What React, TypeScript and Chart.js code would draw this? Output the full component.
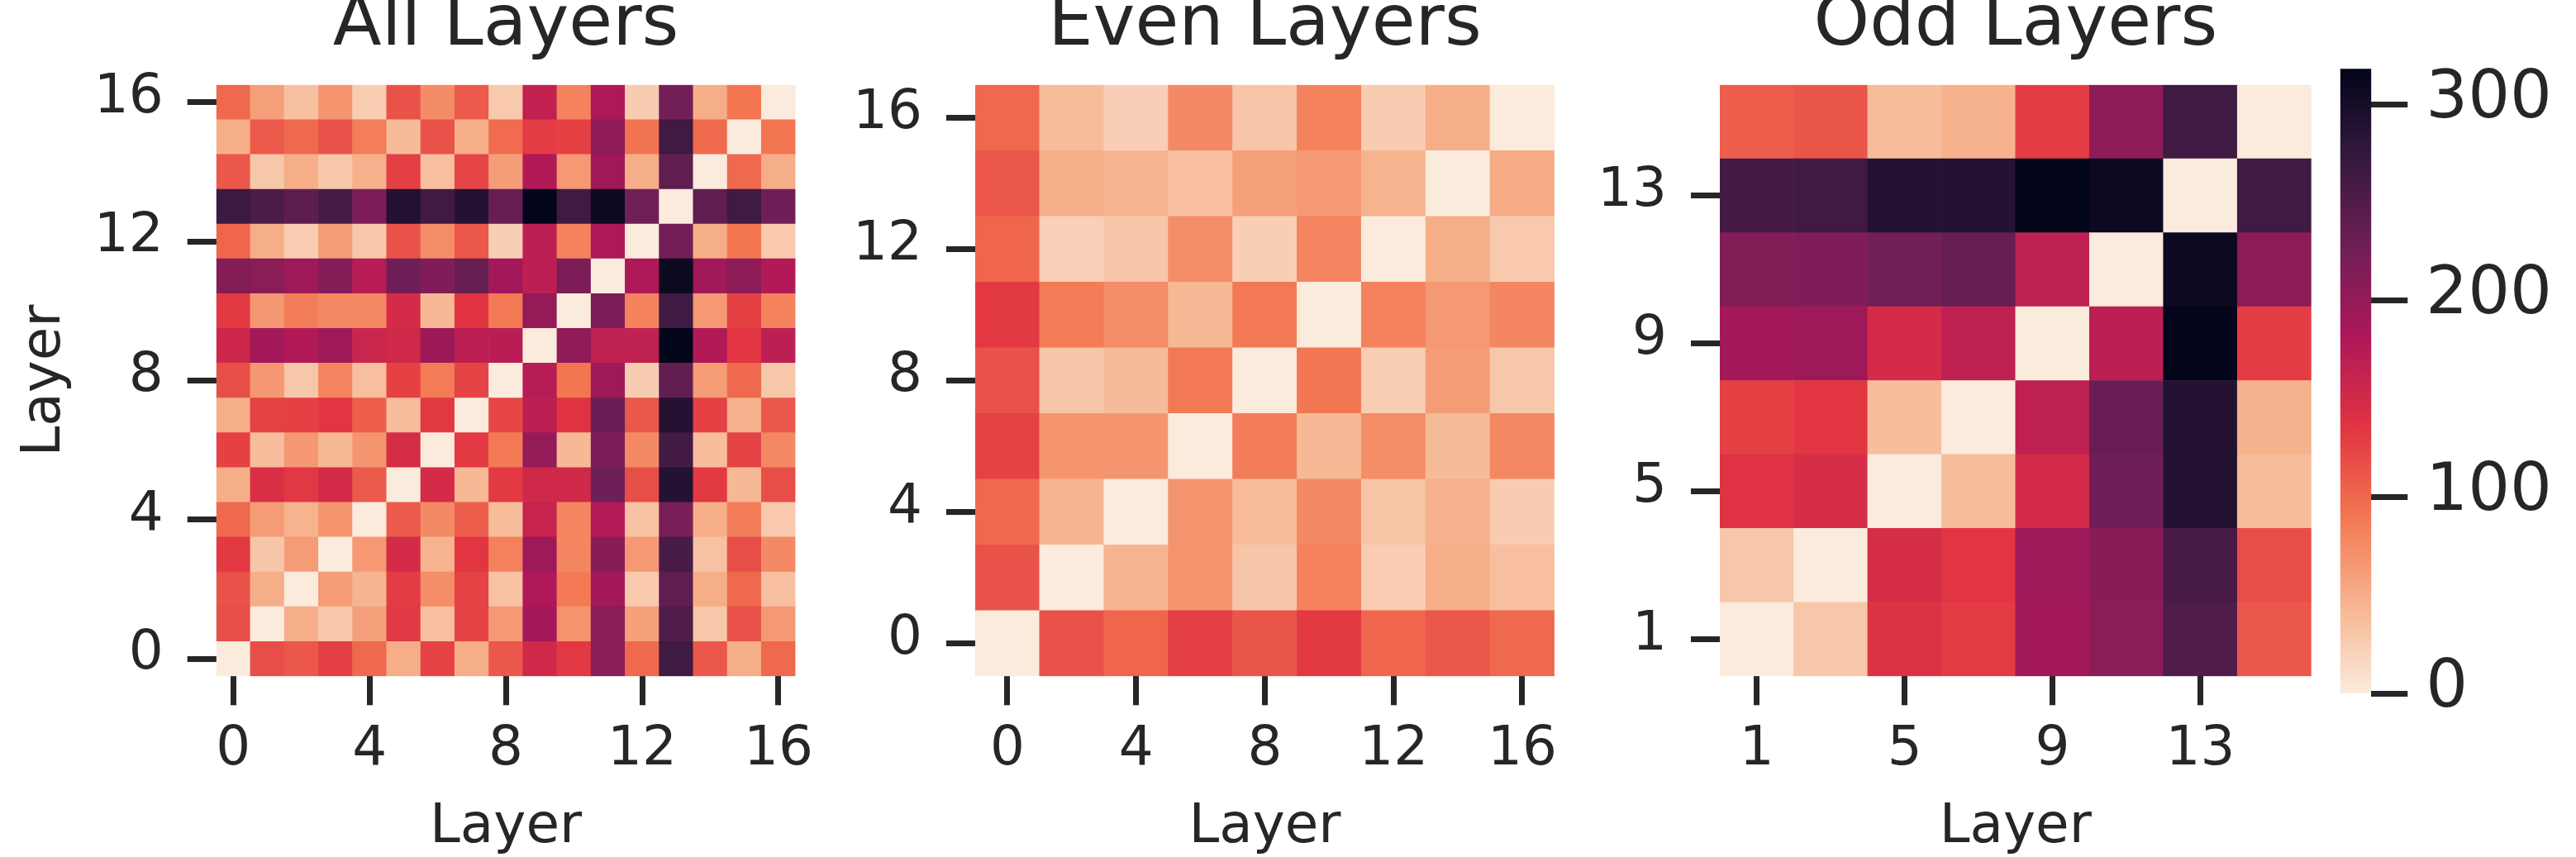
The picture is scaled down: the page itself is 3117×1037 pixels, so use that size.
import React, { useEffect, useRef } from 'react';
import { Chart, registerables } from 'chart.js';

Chart.register(...registerables);

const FONT = "'DejaVu Sans', sans-serif";
const INK = '#262626';

const allLayers = [0, 1, 2, 3, 4, 5, 6, 7, 8, 9, 10, 11, 12, 13, 14, 15, 16];
const evenLayers = [0, 2, 4, 6, 8, 10, 12, 14, 16];
const oddLayers = [1, 3, 5, 7, 9, 11, 13, 15];

const allTicks = [0, 4, 8, 12, 16];
const evenTicks = [0, 4, 8, 12, 16];
const oddTicks = [1, 5, 9, 13];
const colorbarTicks = [0, 100, 200, 300];
const colorMin = 0;
const colorMax = 318;

// rows: layer listed bottom (first) to top (last); columns: layers left to right
const allValues = [
  [0, 118, 112, 128, 100, 50, 126, 50, 112, 152, 133, 208, 100, 265, 112, 50, 100],
  [118, 0, 50, 30, 60, 133, 36, 126, 66, 190, 69, 208, 60, 252, 30, 115, 65],
  [115, 50, 0, 63, 45, 130, 74, 126, 34, 180, 88, 190, 28, 240, 50, 100, 36],
  [132, 31, 63, 0, 66, 148, 46, 135, 83, 193, 79, 210, 65, 258, 34, 118, 76],
  [100, 63, 46, 68, 0, 110, 76, 107, 39, 160, 79, 176, 34, 220, 50, 86, 28],
  [50, 142, 133, 148, 110, 0, 148, 42, 132, 152, 152, 228, 118, 288, 132, 42, 118],
  [127, 38, 67, 43, 68, 146, 0, 132, 88, 200, 42, 218, 76, 262, 38, 125, 78],
  [50, 126, 127, 135, 107, 38, 132, 0, 123, 168, 137, 233, 112, 288, 127, 48, 112],
  [118, 67, 30, 80, 36, 127, 87, 125, 0, 174, 91, 194, 26, 238, 63, 100, 30],
  [155, 190, 178, 192, 158, 152, 195, 168, 172, 0, 203, 167, 166, 318, 178, 135, 169],
  [132, 67, 86, 78, 78, 148, 42, 136, 89, 200, 0, 218, 82, 265, 65, 127, 82],
  [212, 208, 194, 212, 173, 228, 215, 235, 190, 168, 218, 0, 180, 310, 191, 206, 178],
  [102, 50, 25, 64, 30, 115, 74, 112, 24, 168, 82, 180, 0, 224, 50, 91, 28],
  [268, 255, 242, 258, 218, 290, 263, 288, 235, 318, 263, 310, 227, 0, 240, 265, 228],
  [112, 30, 50, 30, 48, 128, 36, 124, 62, 178, 66, 192, 50, 240, 0, 100, 50],
  [50, 110, 100, 115, 85, 40, 115, 50, 98, 130, 127, 205, 92, 265, 99, 0, 91],
  [100, 60, 35, 68, 25, 115, 75, 110, 28, 165, 82, 180, 26, 225, 50, 91, 0],
];

const evenValues = [
  [0, 115, 102, 128, 113, 132, 102, 112, 100],
  [115, 0, 45, 69, 31, 83, 25, 50, 36],
  [100, 45, 0, 69, 39, 76, 32, 48, 26],
  [126, 68, 68, 0, 86, 42, 74, 40, 78],
  [115, 31, 40, 89, 0, 90, 24, 63, 30],
  [132, 87, 74, 42, 89, 0, 82, 65, 79],
  [102, 22, 31, 73, 24, 80, 0, 50, 28],
  [112, 50, 45, 36, 60, 65, 46, 0, 52],
  [100, 39, 23, 76, 31, 82, 26, 50, 0],
];

const oddValues = [
  [0, 30, 140, 130, 190, 208, 252, 112],
  [30, 0, 146, 135, 193, 210, 258, 118],
  [138, 146, 0, 38, 148, 228, 288, 39],
  [127, 135, 38, 0, 167, 233, 288, 47],
  [190, 193, 148, 167, 0, 169, 318, 130],
  [213, 215, 227, 235, 167, 0, 310, 206],
  [260, 264, 288, 288, 318, 310, 0, 265],
  [107, 113, 39, 47, 130, 206, 265, 0],
];

// seaborn "rocket" colormap anchors (position, r, g, b); used reversed
const ROCKET: number[][] = [
  [0, 3, 5, 26],
  [1 / 7, 53, 25, 62],
  [2 / 7, 112, 31, 87],
  [3 / 7, 173, 23, 89],
  [4 / 7, 225, 51, 66],
  [5 / 7, 243, 118, 81],
  [6 / 7, 246, 180, 143],
  [1, 250, 235, 221],
];

function rocketR(v: number): string {
  const t = Math.min(1, Math.max(0, (v - colorMin) / (colorMax - colorMin)));
  const u = 1 - t;
  for (let i = 0; i < ROCKET.length - 1; i++) {
    const a = ROCKET[i];
    const b = ROCKET[i + 1];
    if (u >= a[0] && u <= b[0]) {
      const f = (u - a[0]) / (b[0] - a[0]);
      const r = Math.round(a[1] + (b[1] - a[1]) * f);
      const g = Math.round(a[2] + (b[2] - a[2]) * f);
      const bl = Math.round(a[3] + (b[3] - a[3]) * f);
      return `rgb(${r},${g},${bl})`;
    }
  }
  return 'rgb(250,235,221)';
}

const H = 1037;
const AREA_TOP = 102.7;
const AREA_BOTTOM = 818.3;
const TICK_FONT = 66;
const TITLE_FONT = 86;
const TITLE_LH = 0.726;
const LABEL_FONT = 66;

const tickGrid = (len: number) => ({
  display: true,
  offset: false,
  drawOnChartArea: false,
  drawTicks: true,
  tickLength: len,
  tickWidth: 7,
  tickColor: INK,
});

type Spec = {
  title: string;
  layers: number[];
  values: number[][];
  ticks: number[];
  step: number;
  axisWidth: number;
  padRight: number;
  yTitle: boolean;
};

function heatmapConfig(spec: Spec): any {
  const half = spec.step / 2;
  const n = spec.layers.length;
  return {
    type: 'bar',
    data: {
      labels: spec.layers.map(String),
      datasets: spec.values.map((row, r) => ({
        data: row.map(() => [spec.layers[r] - half, spec.layers[r] + half]),
        backgroundColor: row.map((v) => rocketR(v)),
        borderWidth: 0,
        grouped: false,
        barPercentage: 1,
        categoryPercentage: 1,
      })),
    },
    options: {
      responsive: false,
      animation: false,
      devicePixelRatio: 1,
      events: [],
      layout: { padding: { left: 0, right: spec.padRight, top: 0, bottom: 0 } },
      plugins: {
        legend: { display: false },
        tooltip: { enabled: false },
        title: {
          display: true,
          text: spec.title,
          color: INK,
          fullSize: false,
          font: { family: FONT, size: TITLE_FONT, weight: 'normal', lineHeight: TITLE_LH },
          padding: { top: 0, bottom: AREA_TOP - TITLE_FONT * TITLE_LH },
        },
      },
      scales: {
        x: {
          type: 'category',
          offset: true,
          grid: tickGrid(35),
          border: { display: false },
          ticks: {
            autoSkip: false,
            maxRotation: 0,
            minRotation: 0,
            padding: 15,
            color: INK,
            font: { family: FONT, size: TICK_FONT },
            callback: (_v: any, i: number) =>
              spec.ticks.includes(spec.layers[i]) ? String(spec.layers[i]) : null,
          },
          title: {
            display: true,
            text: 'Layer',
            color: INK,
            font: { family: FONT, size: LABEL_FONT, lineHeight: 1 },
            padding: { top: 0, bottom: 2 },
          },
          afterFit: (s: any) => {
            s.height = H - AREA_BOTTOM;
          },
        },
        y: {
          type: 'linear',
          min: spec.layers[0] - half,
          max: spec.layers[n - 1] + half,
          afterBuildTicks: (s: any) => {
            s.ticks = spec.ticks.map((v) => ({ value: v }));
          },
          grid: tickGrid(35),
          border: { display: false },
          ticks: {
            padding: 29,
            labelOffset: -5,
            color: INK,
            font: { family: FONT, size: TICK_FONT },
            callback: (v: any) => String(v),
          },
          title: {
            display: spec.yTitle,
            text: 'Layer',
            color: INK,
            font: { family: FONT, size: LABEL_FONT, lineHeight: 1 },
            padding: { top: 22, bottom: 0 },
          },
          afterFit: (s: any) => {
            s.width = spec.axisWidth;
          },
        },
      },
    },
  };
}

function colorbarConfig(): any {
  return {
    type: 'bar',
    data: {
      labels: [''],
      datasets: [
        {
          data: [[colorMin, colorMax]],
          borderWidth: 0,
          barPercentage: 1,
          categoryPercentage: 1,
          backgroundColor: (ctx: any) => {
            const area = ctx.chart.chartArea;
            if (!area) return 'rgba(0,0,0,0)';
            const g = ctx.chart.ctx.createLinearGradient(0, area.bottom, 0, area.top);
            for (let i = 0; i <= 40; i++) {
              const f = i / 40;
              g.addColorStop(f, rocketR(colorMin + f * (colorMax - colorMin)));
            }
            return g;
          },
        },
      ],
    },
    options: {
      responsive: false,
      animation: false,
      devicePixelRatio: 1,
      events: [],
      layout: { padding: { left: 21.7, right: 0, top: 83.3, bottom: H - 839 } },
      plugins: { legend: { display: false }, tooltip: { enabled: false }, title: { display: false } },
      scales: {
        x: { display: false, offset: true },
        y: {
          type: 'linear',
          position: 'right',
          min: colorMin,
          max: colorMax,
          afterBuildTicks: (s: any) => {
            s.ticks = colorbarTicks.map((v) => ({ value: v }));
          },
          grid: tickGrid(44),
          border: { display: false },
          ticks: {
            padding: 22,
            labelOffset: -5,
            color: INK,
            font: { family: FONT, size: 80 },
            callback: (v: any) => String(v),
          },
          afterFit: (s: any) => {
            s.width = 3117 - 2869.3;
          },
        },
      },
    },
  };
}

type Panel = { left: number; width: number; make: () => any };

const panels: Panel[] = [
  {
    left: 0,
    width: 1000,
    make: () =>
      heatmapConfig({ title: 'All Layers', layers: allLayers, values: allValues, ticks: allTicks, step: 1, axisWidth: 261.7, padRight: 1000 - 977.3, yTitle: true }),
  },
  {
    left: 1000,
    width: 900,
    make: () =>
      heatmapConfig({ title: 'Even Layers', layers: evenLayers, values: evenValues, ticks: evenTicks, step: 2, axisWidth: 180, padRight: 900 - 895.7, yTitle: false }),
  },
  {
    left: 1900,
    width: 910,
    make: () =>
      heatmapConfig({ title: 'Odd Layers', layers: oddLayers, values: oddValues, ticks: oddTicks, step: 2, axisWidth: 181, padRight: 910 - 896.7, yTitle: false }),
  },
  { left: 2810, width: 307, make: colorbarConfig },
];

function PanelCanvas({ panel }: { panel: Panel }) {
  const ref = useRef<HTMLCanvasElement | null>(null);
  useEffect(() => {
    if (!ref.current) return;
    const chart = new Chart(ref.current, panel.make());
    return () => chart.destroy();
  }, [panel]);
  return (
    <canvas
      ref={ref}
      width={panel.width}
      height={H}
      style={{ position: 'absolute', left: panel.left, top: 0, width: panel.width, height: H }}
    />
  );
}

export default function App() {
  return (
    <div style={{ position: 'absolute', left: 0, top: 0, width: 3117, height: H, background: '#ffffff', overflow: 'hidden' }}>
      {panels.map((p, i) => (
        <PanelCanvas key={i} panel={p} />
      ))}
    </div>
  );
}
